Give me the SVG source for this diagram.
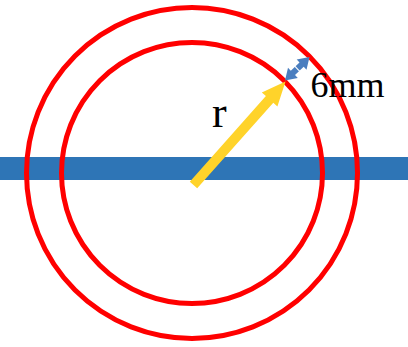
<svg xmlns="http://www.w3.org/2000/svg" width="408" height="347" viewBox="0 0 408 347">
  <style>
    .ring { fill: none; stroke: #FF0000; stroke-width: 5; }
    .lbl { font-family: "Liberation Serif", "Times New Roman", serif; fill: #000000; }
  </style>
  <rect width="408" height="347" fill="#FFFFFF"/>
  <g id="bar">
    <rect x="0" y="157" width="408" height="23" fill="#2E75B6"/>
  </g>
  <g id="outer-circle">
    <circle class="ring" cx="192" cy="173" r="165.5"/>
  </g>
  <g id="inner-circle">
    <circle class="ring" cx="192" cy="173" r="130.5"/>
  </g>
  <g id="connectors">
    <polygon id="radius-arrow" fill="#FFD32A" points="189.8,181.7 265.9,96.1 261.8,92.4 285.5,81.5 277.4,106.4 273.3,102.7 197.2,188.3"/>
    <g id="gap-arrow">
      <polygon fill="#4A7EBF" points="285,80.5 297.8,78 295,75.1 303.7,66.8 306.5,69.7 309.5,57 296.7,59.5 299.5,62.4 290.8,70.7 288,67.8"/>
      <line x1="294.5" y1="65.9" x2="300" y2="71.6" stroke="#FFFFFF" stroke-width="1.2"/>
    </g>
  </g>
  <g id="label-r">
    <text class="lbl" x="212" y="127" font-size="44">r</text>
  </g>
  <g id="label-6mm">
    <text class="lbl" x="310.5" y="96.7" font-size="36">6mm</text>
  </g>
</svg>
